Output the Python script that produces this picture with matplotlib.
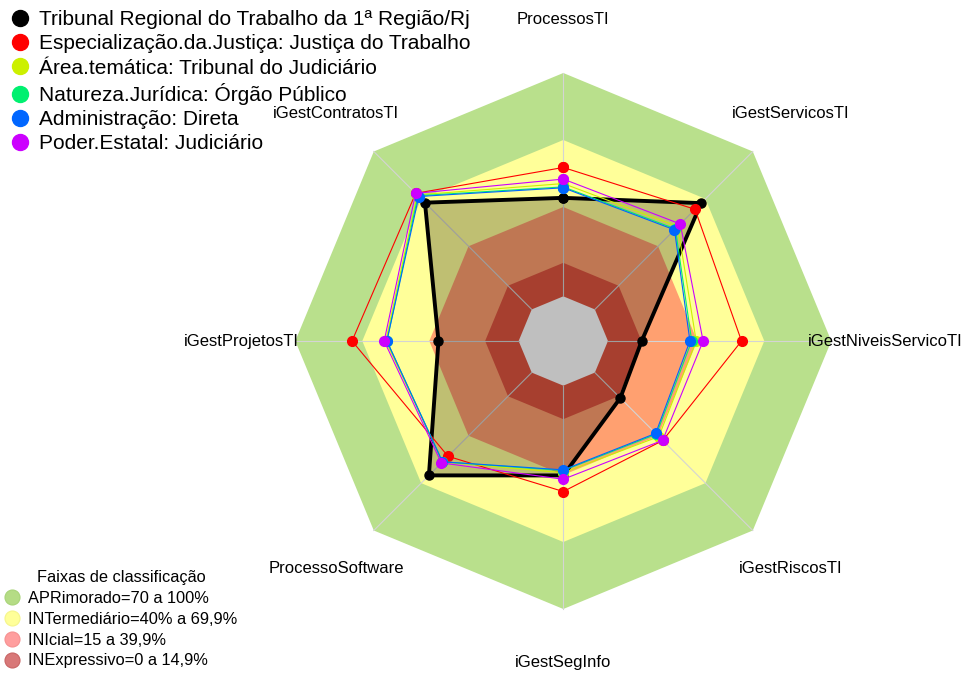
import numpy as np
import matplotlib
matplotlib.use("Agg")
import matplotlib.pyplot as plt
from matplotlib.lines import Line2D

plt.rcParams['font.family'] = ['Liberation Sans', 'DejaVu Sans']

# ---------------- data ----------------
axis_labels = ["ProcessosTI", "iGestServicosTI", "iGestNiveisServicoTI", "iGestRiscosTI",
               "iGestSegInfo", "ProcessoSoftware", "iGestProjetosTI", "iGestContratosTI"]

tribunal = [44.1, 67.3, 15.1, 16.1, 40.2, 65.1, 35.9, 67.6]
especializacao = [57.7, 63.4, 59.8, 43.0, 47.4, 53.0, 74.6, 73.5]
area_tematica = [50.5, 52.5, 39.5, 40.5, 39.0, 56.5, 59.5, 72.5]
natureza = [49.0, 51.0, 37.5, 39.0, 38.0, 56.5, 59.0, 72.0]
administracao = [48.6, 50.4, 36.7, 38.5, 37.7, 56.5, 59.0, 71.5]
poder = [52.5, 54.1, 42.6, 42.9, 41.9, 57.2, 60.2, 73.5]

series_names = ["Tribunal Regional do Trabalho da 1ª Região/Rj",
                "Especialização.da.Justiça: Justiça do Trabalho",
                "Área.temática: Tribunal do Judiciário",
                "Natureza.Jurídica: Órgão Público",
                "Administração: Direta",
                "Poder.Estatal: Judiciário"]
series_colors = ["#000000", "#FF0000", "#CCF000", "#00F070", "#0066FF", "#CC00FF"]

band_limits = [100, 70, 40, 15]
band_colors = ["#B9E08C", "#FFFF99", "#FFA070", "#E05540"]
band_labels = ["APRimorado=70 a 100%", "INTermediário=40% a 69,9%",
               "INIcial=15 a 39,9%", "INExpressivo=0 a 14,9%"]
band_legend_colors = ["#B5DC85", "#FFFF99", "#FF9E9E", "#D87878"]
band_legend_edges = ["#A8D478", "#F5F58A", "#F59090", "#C86464"]

# ---------------- geometry ----------------
W, H = 964, 673
cx, cy = 563.3, 341.0      # center in pixels (from top-left)
R = 268.0                  # outer radius in pixels
hole = 1.0 / 6.0

n = len(axis_labels)
theta = np.pi / 2 - np.arange(n) * 2 * np.pi / n


def to_r(v):
    v = np.asarray(v, dtype=float)
    return hole + (1 - hole) * v / 100.0


def xy(values):
    r = to_r(values)
    x = r * np.cos(theta)
    y = r * np.sin(theta)
    return np.append(x, x[0]), np.append(y, y[0])


fig = plt.figure(figsize=(W / 100, H / 100), dpi=100)
ax = fig.add_axes([0, 0, 1, 1])
ax.set_xlim(-cx / R, (W - cx) / R)
ax.set_ylim(-(H - cy) / R, cy / R)
ax.axis('off')

# bands
for lim, col in zip(band_limits, band_colors):
    bx, by = xy([lim] * n)
    ax.fill(bx, by, color=col, lw=0, zorder=1)
hx, hy = xy([0] * n)
ax.fill(hx, hy, color="white", lw=0, zorder=1)

# axis lines
for t in theta:
    ax.plot([hole * np.cos(t), np.cos(t)], [hole * np.sin(t), np.sin(t)],
            color="#D4D4D4", lw=0.8, zorder=2)

# labels
for t, lab in zip(theta, axis_labels):
    ax.text(1.2 * np.cos(t), 1.2 * np.sin(t), lab, ha='center', va='center',
            fontsize=12, color='black', zorder=5)

# tribunal polygon with translucent fill
tx, ty = xy(tribunal)
ax.fill(tx, ty, color='black', alpha=0.25, lw=0, zorder=3)
ax.plot(tx, ty, color='black', lw=2.8, marker='o', markersize=6.5, zorder=4)

# other series
all_series = [especializacao, area_tematica, natureza, administracao, poder]
for vals, col in zip(all_series, series_colors[1:]):
    sx, sy = xy(vals)
    ax.plot(sx, sy, color=col, lw=0.8, marker='o', markersize=7, zorder=4)

# legends
handles = [Line2D([], [], ls='', marker='o', markersize=11.5, color=c) for c in series_colors]
leg1 = fig.legend(handles, series_names, loc='upper left', bbox_to_anchor=(0.0, 1.0),
                  frameon=False, fontsize=15, handlelength=0.9, handletextpad=0.47,
                  labelspacing=0.25, borderaxespad=0.28, borderpad=0.21)

handles2 = [Line2D([], [], ls='', marker='o', markersize=10.8, markerfacecolor=c,
                   markeredgecolor=e, markeredgewidth=0.8)
            for c, e in zip(band_legend_colors, band_legend_edges)]
leg2 = fig.legend(handles2, band_labels, loc='lower left', bbox_to_anchor=(0.0, 0.0),
                  frameon=False, fontsize=11.8, title="Faixas de classificação",
                  title_fontsize=11.8, handlelength=0.9, handletextpad=0.53,
                  labelspacing=0.36, borderaxespad=0.08, borderpad=0.2)

fig.savefig("out.png", dpi=100)
